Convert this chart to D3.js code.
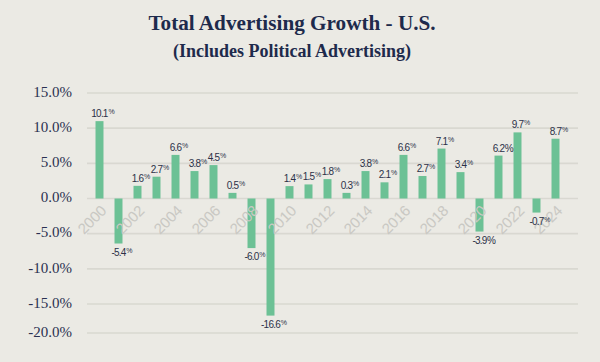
<!DOCTYPE html>
<html>
<head>
  <meta charset="utf-8">
  <title>Total Advertising Growth - U.S.</title>
  <script src="https://cdn.jsdelivr.net/npm/d3@7"></script>
  <style>
    html, body { margin: 0; padding: 0; background: #ebeae4; }
    svg { display: block; }
    .title { font-family: "Liberation Serif", "DejaVu Serif", serif; font-weight: bold; fill: #1e2a4c; }
    .ytick { font-family: "Liberation Serif", serif; font-size: 15px; fill: #2a3050; }
    .xtick { font-family: "Liberation Sans", Arial, sans-serif; font-size: 15px; fill: #c9c8c3; }
    .lbl { font-family: "Liberation Sans", Arial, sans-serif; font-size: 10px; fill: #2c3148; letter-spacing: -0.8px; }
  </style>
</head>
<body>
  <div id="chart"></div>
  <script>
    const years = d3.range(2000, 2025).map(String);
    // bar heights as drawn in the picture (%)
    const barValues = [11.0, -6.4, 1.8, 3.1, 6.2, 3.9, 4.75, 0.8, -7.05, -17.0,
                       1.76, 2.0, 2.76, 0.8, 3.9, 2.3, 6.2, 3.2, 7.1, 3.75,
                       -4.7, 6.1, 9.4, -2.0, 8.5];
    // printed labels
    const labelText = ["10.1", "-5.4", "1.6", "2.7", "6.6", "3.8", "4.5", "0.5", "-6.0", "-16.6",
                       "1.4", "1.5", "1.8", "0.3", "3.8", "2.1", "6.6", "2.7", "7.1", "3.4",
                       "-3.9", "6.2", "9.7", "-0.7", "8.7"];
    const plainPercent = ["2020", "2021"];
    const yTicks = [15, 10, 5, 0, -5, -10, -15, -20];

    const W = 600, H = 362;
    const svg = d3.select("#chart").append("svg").attr("width", W).attr("height", H);

    svg.append("text").attr("class", "title").attr("x", 292).attr("y", 30)
      .attr("text-anchor", "middle").style("font-size", "21.2px")
      .text("Total Advertising Growth - U.S.");
    svg.append("text").attr("class", "title").attr("x", 292).attr("y", 57)
      .attr("text-anchor", "middle").style("font-size", "18px")
      .text("(Includes Political Advertising)");

    const x = d3.scaleBand().domain(years).range([90, 565]).paddingInner(0.58).paddingOuter(0.29);
    const y = d3.scaleLinear().domain([-20, -15, 15]).range([333, 304, 93]);

    // gridlines
    svg.append("g").selectAll("line").data(yTicks).join("line")
      .attr("x1", 87).attr("x2", 578)
      .attr("y1", d => y(d)).attr("y2", d => y(d))
      .attr("stroke", "#d9d8d1").attr("stroke-width", 1.6);

    svg.append("g").selectAll("text").data(yTicks).join("text")
      .attr("class", "ytick")
      .attr("x", 72).attr("y", d => y(d) - 1)
      .attr("dy", "0.32em").attr("text-anchor", "end")
      .text(d => d.toFixed(1) + "%");

    // bars
    svg.append("g").selectAll("rect").data(years).join("rect")
      .attr("x", d => x(d))
      .attr("width", x.bandwidth())
      .attr("y", (d, i) => y(Math.max(0, barValues[i])))
      .attr("height", (d, i) => Math.abs(y(barValues[i]) - y(0)))
      .attr("fill", "#6cc195");

    // x tick labels (every other year)
    svg.append("g").selectAll("text").data(years.filter((d, i) => i % 2 === 0)).join("text")
      .attr("class", "xtick")
      .attr("text-anchor", "end")
      .attr("transform", d => `translate(${x(d) + x.bandwidth() / 2 + 8},${y(0) + 13}) rotate(-45)`)
      .text(d => d);

    // value labels
    const lg = svg.append("g");
    years.forEach((yr, i) => {
      const v = barValues[i];
      const cx = x(yr) + x.bandwidth() / 2;
      const ty = v >= 0 ? y(v) - 4 : y(v) + 12;
      const t = lg.append("text").attr("class", "lbl")
        .attr("x", cx).attr("y", ty).attr("text-anchor", "middle")
        .text(labelText[i]);
      const w = t.node().getComputedTextLength();
      const plain = plainPercent.includes(yr);
      lg.append("text").attr("class", "lbl")
        .attr("x", cx + w / 2 + (plain ? 0.5 : 0.8))
        .attr("y", plain ? ty : ty - 3)
        .style("font-size", plain ? "10px" : "7px")
        .style("letter-spacing", "0px")
        .text("%");
    });
  </script>
</body>
</html>
